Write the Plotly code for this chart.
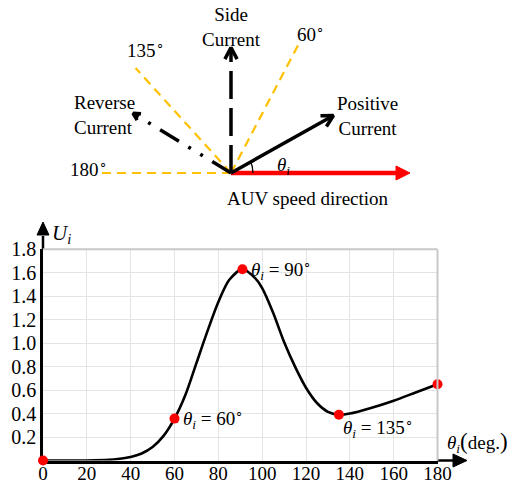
import math
import plotly.graph_objects as go

# ------------------------------------------------------------------ data
theta_deg = [0, 10, 20, 30, 35, 40, 45, 50, 55, 60, 65, 70, 75, 80, 85, 91,
             97, 100, 105, 110, 115, 120, 125, 130, 135, 140, 150, 160, 170, 180]
U_i = [0, 0, 0, 0.005, 0.015, 0.03, 0.06, 0.115, 0.21, 0.357, 0.56, 0.83, 1.1,
       1.35, 1.54, 1.63, 1.55, 1.47, 1.26, 1.01, 0.80, 0.62, 0.49, 0.415, 0.39,
       0.40, 0.45, 0.51, 0.58, 0.65]
key_theta = [0, 60, 91, 135, 180]
key_U = [0, 0.357, 1.63, 0.39, 0.65]
x_ticks = [0, 20, 40, 60, 80, 100, 120, 140, 160, 180]
y_ticks = [0.2, 0.4, 0.6, 0.8, 1.0, 1.2, 1.4, 1.6, 1.8]
y_tick_text = ["0.2", "0.4", "0.6", "0.8", "1.0", "1.2", "1.4", "1.6", "1.8"]

ref_angles = [180, 135, 60]            # yellow reference directions
current_angles = [27, 90, 151]         # positive, side, reverse current
current_names = ["Positive<br>Current", "Side<br>Current", "Reverse<br>Current"]

# ------------------------------------------------------------------ layout constants
W, H = 525, 482
FONT = "Liberation Serif, Times New Roman, serif"
FS = 19
PL, PR, PB, PT = 43, 437.5, 460.5, 249.3     # plot area in pixels
YELLOW = "#FFC000"
O = (231, 173)                               # diagram origin (pixels)
YS = 1.1                                     # vertical stretch of the sketch


def pt(angle, r):
    a = math.radians(angle)
    return O[0] + r * math.cos(a), O[1] - YS * r * math.sin(a)


def chevron(tip, angle, L, spread=28):
    a = math.radians(angle)
    dx, dy = math.cos(a), -YS * math.sin(a)
    n = math.hypot(dx, dy)
    dx, dy = dx / n, dy / n
    pts = []
    for s in (spread, -spread):
        r = math.radians(s)
        rx = dx * math.cos(r) - dy * math.sin(r)
        ry = dx * math.sin(r) + dy * math.cos(r)
        pts.append((tip[0] - L * rx, tip[1] - L * ry))
    return [pts[0][0], tip[0], pts[1][0]], [pts[0][1], tip[1], pts[1][1]]


fig = go.Figure()

# ------------------------------------------------------------------ chart (xy)
fig.add_trace(go.Scatter(x=theta_deg, y=U_i, mode="lines",
                         line=dict(color="black", width=2.6, shape="spline", smoothing=0.8),
                         hoverinfo="skip", showlegend=False))
fig.add_trace(go.Scatter(x=key_theta, y=key_U, mode="markers",
                         marker=dict(color="#FF0000", size=10, line=dict(width=0)),
                         cliponaxis=False, hoverinfo="skip", showlegend=False))

# ------------------------------------------------------------------ sketch (x2y2, pixel coords)
ov = dict(xaxis="x2", yaxis="y2", hoverinfo="skip", showlegend=False)
ref_len = 135
for a in ref_angles:
    e = pt(a, ref_len)
    fig.add_trace(go.Scatter(x=[O[0], e[0]], y=[O[1], e[1]], mode="lines",
                             line=dict(color=YELLOW, width=2.2, dash="9px,6px"), **ov))

# red AUV speed arrow
red_len = 179
e = pt(0, red_len - 13)
fig.add_trace(go.Scatter(x=[O[0], e[0]], y=[O[1], e[1]], mode="lines",
                         line=dict(color="#FF0000", width=4.5), **ov))
tip = pt(0, red_len)
fig.add_trace(go.Scatter(x=[tip[0] - 14, tip[0], tip[0] - 14, tip[0] - 14],
                         y=[tip[1] - 7, tip[1], tip[1] + 7, tip[1] - 7],
                         mode="lines", fill="toself", fillcolor="#FF0000",
                         line=dict(color="#FF0000", width=1), **ov))

cur_len = [115, 114, 112]
cur_dash = ["solid", "28px,9px", "22px,11px,3px,11px,3px,11px"]
cur_head = [13, 13, 8]
for a, L, d, hl in zip(current_angles, cur_len, cur_dash, cur_head):
    t = pt(a, L)
    fig.add_trace(go.Scatter(x=[O[0], t[0]], y=[O[1], t[1]], mode="lines",
                             line=dict(color="black", width=3.5, dash=d), **ov))
    cx, cy = chevron(t, a, hl)
    fig.add_trace(go.Scatter(x=cx, y=cy, mode="lines",
                             line=dict(color="black", width=3.5), **ov))

# angle arc
arc = [pt(k, 22) for k in range(0, 28, 3)]
fig.add_trace(go.Scatter(x=[p[0] for p in arc], y=[p[1] for p in arc], mode="lines",
                         line=dict(color="black", width=1.3), **ov))

# axis arrow extensions
fig.add_trace(go.Scatter(x=[PR, 455], y=[PB, PB], mode="lines",
                         line=dict(color="black", width=2.5), **ov))
fig.add_trace(go.Scatter(x=[453, 467, 453, 453], y=[PB - 6.5, PB, PB + 6.5, PB - 6.5],
                         mode="lines", fill="toself", fillcolor="black",
                         line=dict(color="black", width=1), **ov))
fig.add_trace(go.Scatter(x=[PL, PL], y=[PT, 236], mode="lines",
                         line=dict(color="black", width=2.5), **ov))
fig.add_trace(go.Scatter(x=[PL - 6, PL, PL + 6, PL - 6], y=[235, 222, 235, 235],
                         mode="lines", fill="toself", fillcolor="black",
                         line=dict(color="black", width=1), **ov))

DEG = "<sup>∘</sup>"
TH = "<i>θ</i><sub><i>i</i></sub>"
ann = []


def txt(x, y, s, xanchor="center", yanchor="middle", align="center", ref="2", size=FS):
    ann.append(dict(x=x, y=y, xref="x" + ref, yref="y" + ref, text=s, showarrow=False,
                    xanchor=xanchor, yanchor=yanchor, align=align,
                    font=dict(family=FONT, size=size, color="black")))


txt(231, 27, current_names[1])
txt(367, 116, current_names[0])
txt(72, 115, current_names[2], xanchor="left", align="left")
txt(310, 33, "60" + DEG)
txt(145, 49, "135" + DEG)
txt(88, 168, "180" + DEG)
txt(283, 166, TH)
txt(308, 198, "AUV speed direction")
txt(50, 234, "<i>U</i><sub><i>i</i></sub>", xanchor="left", size=21)
txt(445, 442, TH + "<span style='font-size:23px'>(</span>deg.<span style='font-size:23px'>)</span>",
    xanchor="left")

# key point labels on chart
for xv, yv, lab, xs, ys, ya in [(60, 0.357, "60", 6, 0, "middle"),
                                 (91, 1.63, "90", 7, 0, "middle"),
                                 (135, 0.39, "135", 2, 3, "top")]:
    ann.append(dict(x=xv, y=yv, xref="x", yref="y", showarrow=False,
                    text=TH + " = " + lab + DEG, xanchor="left", yanchor=ya,
                    xshift=xs, yshift=ys,
                    font=dict(family=FONT, size=FS, color="black")))

fig.update_layout(
    template="none",
    width=W, height=H, margin=dict(l=0, r=0, t=0, b=0, pad=0),
    paper_bgcolor="white", plot_bgcolor="rgba(0,0,0,0)",
    font=dict(family=FONT, size=FS, color="black"),
    xaxis=dict(domain=[PL / W, PR / W], range=[0, 180], tickvals=x_ticks,
               automargin=False, ticklabelstandoff=-6,
               showgrid=True, gridcolor="#e4e4e4", gridwidth=1, zeroline=False,
               showline=True, linecolor="black", linewidth=2.5, layer="below traces",
               ticks="", tickfont=dict(family=FONT, size=FS, color="black"),
               fixedrange=True),
    yaxis=dict(domain=[1 - PB / H, 1 - PT / H], range=[0, 1.8], tickvals=y_ticks,
               ticktext=y_tick_text, showgrid=True, gridcolor="#e4e4e4", gridwidth=1,
               automargin=False,
               zeroline=False, showline=True, linecolor="black", linewidth=2.5,
               layer="below traces", ticks="",
               tickfont=dict(family=FONT, size=20, color="black"), fixedrange=True),
    xaxis2=dict(domain=[0, 1], range=[0, W], visible=False, fixedrange=True,
                automargin=False),
    yaxis2=dict(domain=[0, 1], range=[H, 0], visible=False, fixedrange=True,
                automargin=False),
    annotations=ann,
    shapes=[
        dict(type="line", xref="x domain", yref="y domain", x0=0, x1=1, y0=1, y1=1,
             line=dict(color="#c8c8c8", width=2)),
        dict(type="line", xref="x domain", yref="y domain", x0=1, x1=1, y0=0, y1=1,
             line=dict(color="#c8c8c8", width=2)),
    ],
    showlegend=False,
)

fig.write_html("out.html")
